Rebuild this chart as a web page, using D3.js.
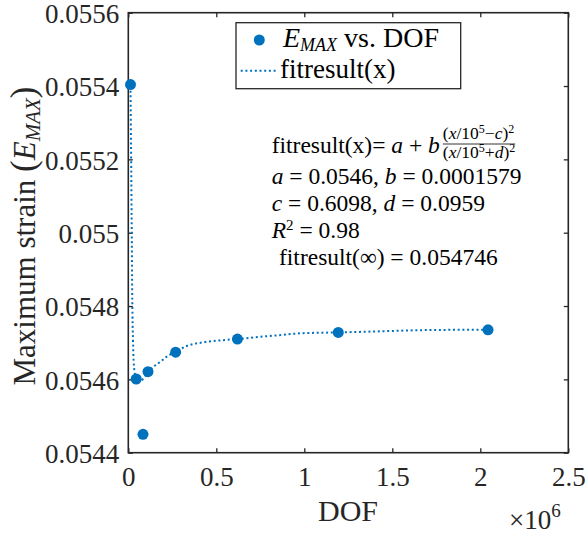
<!DOCTYPE html>
<html>
<head>
<meta charset="utf-8">
<script src="https://cdn.jsdelivr.net/npm/d3@7/dist/d3.min.js"></script>
<style>
  html, body { margin: 0; padding: 0; background: #fff; }
  svg { display: block; font-family: "Liberation Serif", "Times New Roman", Times, "DejaVu Serif", serif; }
</style>
</head>
<body>
<svg id="chart" width="586" height="537"></svg>
<script>
// ── Data ──────────────────────────────────────────────
const dof  = [12500, 45000, 112000, 269000, 620000, 1193000, 2044000, 83500];
const emax = [0.055404, 0.054601, 0.054621, 0.054674, 0.054710, 0.054728, 0.054735, 0.054450];

// dotted fit curve
const fitX = [12500, 18200, 22700, 26700, 34100, 49400, 66500, 94900, 123300, 180100,
              227300, 271000, 331800, 426100, 539800, 620000, 748300, 843200, 994300,
              1193000, 1430000, 1648000, 1828000, 2044000];
const fitY = [0.055400, 0.055089, 0.054816, 0.054707, 0.054626, 0.054596, 0.054594, 0.054609,
              0.054626, 0.054647, 0.054665, 0.054675, 0.054691, 0.054701, 0.054707, 0.054710,
              0.054716, 0.054720, 0.054726, 0.054728, 0.054731, 0.054734, 0.054735, 0.054735];

const xTicks = [0, 0.5e6, 1e6, 1.5e6, 2e6, 2.5e6];
const xTickLabels = ['0', '0.5', '1', '1.5', '2', '2.5'];
const yTicks = [0.0544, 0.0546, 0.0548, 0.055, 0.0552, 0.0554, 0.0556];
const yTickLabels = ['0.0544', '0.0546', '0.0548', '0.055', '0.0552', '0.0554', '0.0556'];

// ── Layout ────────────────────────────────────────────
const BLUE = '#0072BD';
const AX = '#262626';
const FONT = '"Liberation Serif", "Times New Roman", Times, "DejaVu Serif", serif';
const L = 128.3, R = 568.3, T = 12.7, B = 452.7;

const svg = d3.select('#chart').style('font-family', FONT);

const x = d3.scaleLinear().domain([0, 2.5e6]).range([L, R]);
const y = d3.scaleLinear().domain([0.0544, 0.0556]).range([B, T]);

svg.append('defs').append('clipPath').attr('id', 'plot-clip')
  .append('rect').attr('x', L).attr('y', T).attr('width', R - L).attr('height', B - T);

/* ── Axes (box, inward ticks on all sides) ─────────── */

const tickLen = 4.5;

const axBottom = svg.append('g')
  .attr('transform', `translate(0,${B})`)
  .call(d3.axisBottom(x).tickValues(xTicks)
    .tickFormat((d, i) => xTickLabels[i]).tickSizeInner(-tickLen).tickSizeOuter(0).tickPadding(14));
const axTop = svg.append('g')
  .attr('transform', `translate(0,${T})`)
  .call(d3.axisTop(x).tickValues(xTicks).tickFormat('').tickSizeInner(-tickLen).tickSizeOuter(0));
const axLeft = svg.append('g')
  .attr('transform', `translate(${L},0)`)
  .call(d3.axisLeft(y).tickValues(yTicks)
    .tickFormat((d, i) => yTickLabels[i]).tickSizeInner(-tickLen).tickSizeOuter(0).tickPadding(9));
const axRight = svg.append('g')
  .attr('transform', `translate(${R},0)`)
  .call(d3.axisRight(y).tickValues(yTicks).tickFormat('').tickSizeInner(-tickLen).tickSizeOuter(0));

for (const a of [axBottom, axTop, axLeft, axRight]) {
  a.attr('font-family', null).attr('font-size', null);
  a.select('.domain').remove();
  a.selectAll('line').attr('stroke', AX).attr('stroke-width', 1.3);
  a.selectAll('text')
    .attr('fill', AX)
    .style('font-family', FONT)
    .style('font-size', '27px');
}
axBottom.selectAll('text').attr('dy', '0.71em');
axLeft.selectAll('text').attr('dy', '0.36em');

svg.append('rect')
  .attr('x', L).attr('y', T).attr('width', R - L).attr('height', B - T)
  .attr('fill', 'none').attr('stroke', AX).attr('stroke-width', 1.6);

/* ── Fit curve + points ─────────────────────────────── */

const plot = svg.append('g').attr('clip-path', 'url(#plot-clip)');

const line = d3.line()
  .x(d => x(d[0]))
  .y(d => y(d[1]))
  .curve(d3.curveMonotoneX);

plot.append('path')
  .datum(fitX.map((v, i) => [v, fitY[i]]))
  .attr('d', line)
  .attr('fill', 'none')
  .attr('stroke', BLUE)
  .attr('stroke-width', 2)
  .attr('stroke-dasharray', '2,2.7');

svg.append('g').selectAll('circle')
  .data(dof.map((v, i) => [v, emax[i]]))
  .join('circle')
  .attr('cx', d => x(d[0]))
  .attr('cy', d => y(d[1]))
  .attr('r', 5.5)
  .attr('fill', BLUE);

/* ── Axis labels ────────────────────────────────────── */

svg.append('text')
  .attr('x', 348).attr('y', 521)
  .attr('text-anchor', 'middle')
  .attr('fill', AX)
  .style('font-size', '30px')
  .text('DOF');

const mult = svg.append('text')
  .attr('x', 509).attr('y', 529)
  .attr('fill', AX)
  .style('font-size', '27px');
mult.append('tspan').text('×10');
mult.append('tspan').attr('dy', -12).style('font-size', '19px').text('6');

const yl = svg.append('text')
  .attr('transform', 'translate(35,236) rotate(-90)')
  .attr('text-anchor', 'middle')
  .attr('fill', AX)
  .style('font-size', '31px');
yl.append('tspan').text('Maximum strain ');
yl.append('tspan').style('font-size', '35px').text('(');
yl.append('tspan').style('font-style', 'italic').text('E');
yl.append('tspan').attr('dy', 5).style('font-style', 'italic').style('font-size', '21px').text('MAX');
yl.append('tspan').attr('dy', -5).style('font-size', '35px').text(')');

/* ── Legend ─────────────────────────────────────────── */

const lg = svg.append('g');
lg.append('rect')
  .attr('x', 236).attr('y', 22.7).attr('width', 224.7).attr('height', 66)
  .attr('fill', '#fff').attr('stroke', AX).attr('stroke-width', 1.3);
lg.append('circle').attr('cx', 259.3).attr('cy', 40).attr('r', 5.5).attr('fill', BLUE);
const lt1 = lg.append('text').attr('x', 283).attr('y', 47).style('font-size', '28px').attr('fill', '#000');
lt1.append('tspan').style('font-style', 'italic').text('E');
lt1.append('tspan').attr('dy', 4).style('font-style', 'italic').style('font-size', '18px').text('MAX');
lt1.append('tspan').attr('dy', -4).text(' vs. DOF');
lg.append('line')
  .attr('x1', 240.7).attr('x2', 277.3).attr('y1', 70.7).attr('y2', 70.7)
  .attr('stroke', BLUE).attr('stroke-width', 2).attr('stroke-dasharray', '2,2.7');
lg.append('text').attr('x', 280).attr('y', 78).style('font-size', '27px').attr('fill', '#000')
  .text('fitresult(x)');

/* ── Fit annotation ─────────────────────────────────── */

const ann = svg.append('g').style('font-size', '23.5px').attr('fill', '#000');

const l1 = ann.append('text').attr('x', 271.7).attr('y', 153);
l1.append('tspan').text('fitresult(x)= ');
l1.append('tspan').style('font-style', 'italic').text('a');
l1.append('tspan').text(' + ');
l1.append('tspan').style('font-style', 'italic').text('b');
const fx = 271.7 + l1.node().getComputedTextLength() + 3;

function fracPart(yPos, sign, letter) {
  const t = ann.append('text').attr('x', fx).attr('y', yPos).style('font-size', '17.5px');
  t.append('tspan').text('(');
  t.append('tspan').style('font-style', 'italic').text('x');
  t.append('tspan').text('/10');
  t.append('tspan').attr('dy', -6).style('font-size', '12px').text('5');
  t.append('tspan').attr('dy', 6).text(sign);
  t.append('tspan').style('font-style', 'italic').text(letter);
  t.append('tspan').text(')');
  t.append('tspan').attr('dy', -6).style('font-size', '12px').text('2');
  return t.node().getComputedTextLength();
}
const w1 = fracPart(139, '−', 'c');
const w2 = fracPart(158, '+', 'd');
ann.append('line')
  .attr('x1', fx).attr('x2', fx + Math.max(w1, w2))
  .attr('y1', 144).attr('y2', 144)
  .attr('stroke', '#000').attr('stroke-width', 0.8);

const l2 = ann.append('text').attr('x', 271.7).attr('y', 184);
l2.append('tspan').style('font-style', 'italic').text('a');
l2.append('tspan').text(' = 0.0546, ');
l2.append('tspan').style('font-style', 'italic').text('b');
l2.append('tspan').text(' = 0.0001579');

const l3 = ann.append('text').attr('x', 271.7).attr('y', 211);
l3.append('tspan').style('font-style', 'italic').text('c');
l3.append('tspan').text(' = 0.6098, ');
l3.append('tspan').style('font-style', 'italic').text('d');
l3.append('tspan').text(' = 0.0959');

const l4 = ann.append('text').attr('x', 271.7).attr('y', 238);
l4.append('tspan').style('font-style', 'italic').text('R');
l4.append('tspan').attr('dy', -8).style('font-size', '15px').text('2');
l4.append('tspan').attr('dy', 8).text(' = 0.98');

ann.append('text').attr('x', 279).attr('y', 265).text('fitresult(∞) = 0.054746');
</script>
</body>
</html>
